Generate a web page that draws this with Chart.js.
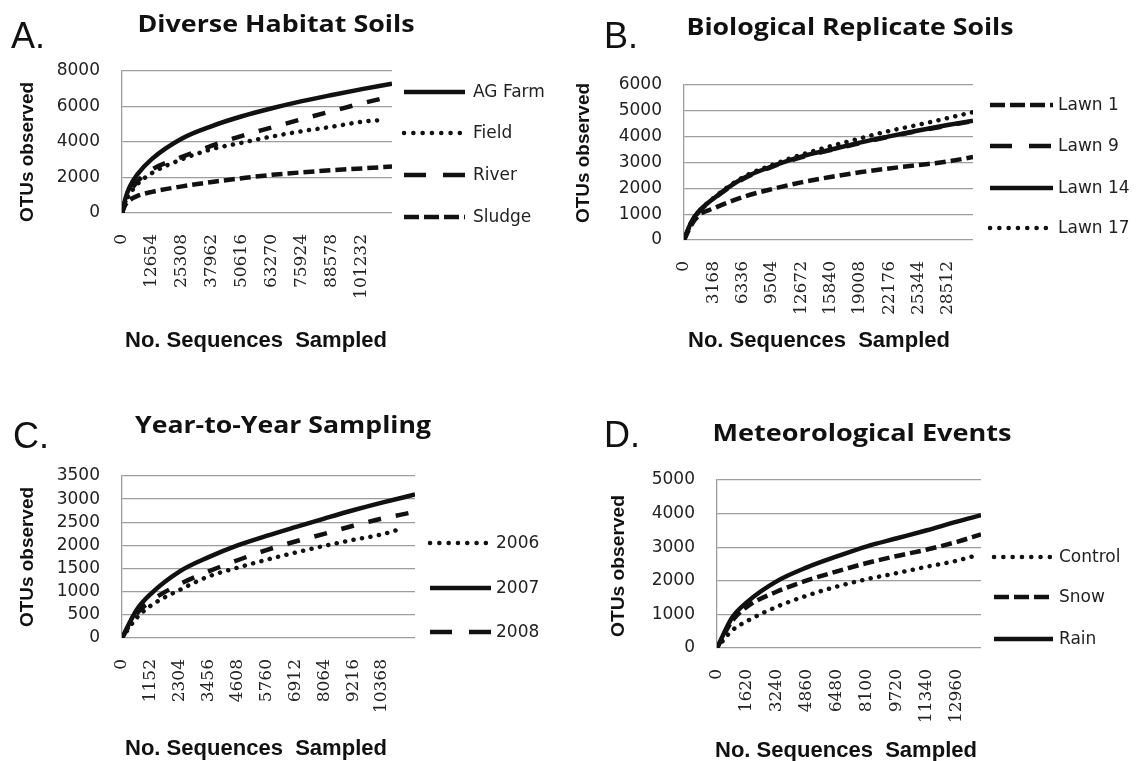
<!DOCTYPE html>
<html>
<head>
<meta charset="utf-8">
<script src="https://cdn.jsdelivr.net/npm/chart.js@4/dist/chart.umd.min.js"></script>
<style>
  html, body { margin: 0; padding: 0; background: #fff; }
  #wrap { position: relative; width: 1136px; height: 761px; overflow: hidden; }
  canvas { position: absolute; }
</style>
</head>
<body>
<div id="wrap">
  <canvas id="chartA" width="568" height="380" style="left:0;top:0"></canvas>
  <canvas id="chartB" width="568" height="380" style="left:568px;top:0"></canvas>
  <canvas id="chartC" width="568" height="381" style="left:0;top:380px"></canvas>
  <canvas id="chartD" width="568" height="381" style="left:568px;top:380px"></canvas>
</div>
<script>
// ---- A. Diverse Habitat Soils ----
const ticksA = [0, 12654, 25308, 37962, 50616, 63270, 75924, 88578, 101232];
const seqA = [0, 1406, 3164, 6327, 12654, 25308, 37962, 50616, 63270, 75924, 88578, 101232];
const depthA = { agFarm: 113886, field: 111000, river: 113886, sludge: 113886 };
const agFarm = [0, 800, 1450, 2150, 3050, 4200, 4900, 5450, 5900, 6300, 6650, 6980, 7280];
const field  = [0, 600, 1050, 1600, 2250, 3030, 3600, 3960, 4310, 4610, 4860, 5140, 5250];
const river  = [0, 650, 1150, 1750, 2450, 3160, 3790, 4350, 4820, 5290, 5740, 6180, 6580];
const sludge = [0, 450, 720, 950, 1190, 1500, 1750, 1960, 2150, 2290, 2410, 2510, 2620];

// ---- B. Biological Replicate Soils ----
const ticksB = [0, 3168, 6336, 9504, 12672, 15840, 19008, 22176, 25344, 28512];
const seqB = [0, 792, 1584, 3168, 6336, 9504, 12672, 15840, 19008, 22176, 25344, 28512];
const depthB = 31250;
const lawn1  = [0, 580, 950, 1220, 1660, 1970, 2230, 2440, 2620, 2770, 2900, 3040, 3210];
const lawn9  = [0, 680, 1080, 1580, 2350, 2830, 3200, 3480, 3750, 4000, 4220, 4430, 4600];
const lawn14 = [0, 700, 1100, 1600, 2380, 2850, 3230, 3500, 3770, 4010, 4240, 4450, 4620];
const lawn17 = [0, 690, 1090, 1620, 2420, 2900, 3300, 3630, 3930, 4220, 4460, 4720, 4950];

// ---- C. Year-to-Year Sampling ----
const ticksC = [0, 1152, 2304, 3456, 4608, 5760, 6912, 8064, 9216, 10368];
const seqC = [0, 576, 1152, 2304, 3456, 4608, 5760, 6912, 8064, 9216, 10368];
const depthC = { y2006: 11080, y2007: 11684, y2008: 11440 };
const otu2006 = [0, 430, 700, 1040, 1330, 1520, 1690, 1845, 1990, 2120, 2240, 2350];
const otu2007 = [0, 600, 955, 1440, 1747, 2000, 2205, 2395, 2580, 2760, 2925, 3100];
const otu2008 = [0, 520, 800, 1165, 1440, 1680, 1900, 2085, 2250, 2425, 2580, 2700];

// ---- D. Meteorological Events ----
const ticksD = [0, 1620, 3240, 4860, 6480, 8100, 9720, 11340, 12960];
const seqD = [0, 810, 1620, 3240, 4860, 6480, 8100, 9720, 11340, 12960];
const depthD = { control: 13770, snow: 14260, rain: 14260 };
const control = [0, 520, 800, 1230, 1560, 1830, 2050, 2230, 2420, 2600, 2720];
const snow    = [0, 800, 1230, 1680, 2010, 2280, 2530, 2740, 2930, 3160, 3380];
const rain    = [0, 900, 1365, 1990, 2400, 2725, 3025, 3265, 3505, 3760, 3950];

// Line styles shared by all panels (plot dash and legend-sample dash)
const STYLE = {
  solid:     { dash: [],         legendDash: [],         cap: 'butt'  },
  dotted:    { dash: [0.1, 8.5], legendDash: [0.1, 9.2], cap: 'round' },
  longDash:  { dash: [13, 15],   legendDash: [22, 17],   cap: 'butt'  },
  shortDash: { dash: [11, 5],    legendDash: [15, 5],    cap: 'butt'  }
};

const INK = '#111';
const GRID = '#9d9d9d';

function series(label, seq, depth, values, style) {
  const xs = seq.concat([depth]);
  return {
    label: label,
    data: values.map((v, i) => ({ x: xs[i], y: v })),
    borderColor: INK,
    borderWidth: 4.5,
    borderDash: style.dash,
    borderCapStyle: style.cap,
    legendDash: style.legendDash,
    pointRadius: 0,
    pointHoverRadius: 0,
    cubicInterpolationMode: 'monotone',
    fill: false
  };
}

function fitText(ctx, text, x, y, width, font, angle, baseline) {
  ctx.save();
  ctx.font = font;
  const w = ctx.measureText(text).width;
  ctx.translate(x, y);
  ctx.rotate(angle);
  ctx.scale(width / w, 1);
  ctx.textAlign = 'center';
  ctx.textBaseline = baseline;
  ctx.fillText(text, 0, 0);
  ctx.restore();
}

// Panel letter, title, axis titles and legend drawn on top of each chart
function decor(cfg) {
  return {
    id: 'decor',
    afterDraw(chart) {
      const ctx = chart.ctx;
      ctx.save();
      ctx.fillStyle = INK;
      ctx.font = "36px 'Liberation Sans'";
      ctx.textAlign = 'left';
      ctx.textBaseline = 'alphabetic';
      ctx.fillText(cfg.letter, cfg.letterAt[0], cfg.letterAt[1]);

      fitText(ctx, cfg.title, cfg.titleAt[0], cfg.titleAt[1], cfg.titleAt[2],
              "bold 24px 'Open Sans'", 0, 'alphabetic');
      fitText(ctx, 'OTUs observed', cfg.yTitleAt[0], cfg.yTitleAt[1], cfg.yTitleAt[2],
              "bold 19px 'Liberation Sans'", -Math.PI / 2, 'middle');
      fitText(ctx, 'No. Sequences  Sampled', cfg.xTitleAt[0], cfg.xTitleAt[1], cfg.xTitleAt[2],
              "bold 22px 'Liberation Sans'", 0, 'alphabetic');

      const lg = cfg.legend;
      chart.data.datasets.forEach((ds, i) => {
        const y = lg.rows[i];
        ctx.save();
        ctx.strokeStyle = ds.borderColor;
        ctx.lineWidth = ds.borderWidth;
        ctx.lineCap = ds.borderCapStyle;
        ctx.setLineDash(ds.legendDash);
        ctx.beginPath();
        ctx.moveTo(lg.x0, y);
        ctx.lineTo(lg.x1, y);
        ctx.stroke();
        ctx.restore();
        ctx.fillStyle = '#222';
        ctx.font = "17px 'DejaVu Sans'";
        ctx.textAlign = 'left';
        ctx.textBaseline = 'middle';
        ctx.fillText(ds.label, lg.tx, y + 1);
      });
      ctx.restore();
    }
  };
}

function makeChart(id, cfg) {
  const canvas = document.getElementById(id);
  const W = canvas.width, H = canvas.height, area = cfg.area;
  return new Chart(canvas, {
    type: 'line',
    data: { datasets: cfg.datasets },
    options: {
      responsive: false,
      animation: false,
      devicePixelRatio: 1,
      events: [],
      layout: { padding: { left: 0, top: area.top, right: W - area.right, bottom: 0 } },
      plugins: { legend: { display: false }, tooltip: { enabled: false }, title: { display: false } },
      scales: {
        x: {
          type: 'linear',
          min: 0,
          max: cfg.xMax,
          afterFit(s) { s.height = H - area.bottom; },
          afterBuildTicks(s) { s.ticks = cfg.xTicks.map(v => ({ value: v })); },
          grid: { display: false, drawTicks: false },
          border: { display: false },
          ticks: {
            autoSkip: false, minRotation: 90, maxRotation: 90, padding: 21,
            color: '#222', font: { family: "'DejaVu Serif'", size: 17 },
            callback: v => String(v)
          }
        },
        y: {
          min: 0,
          max: cfg.yMax,
          afterFit(s) { s.width = area.left; },
          grid: { color: GRID, lineWidth: 1.3, drawTicks: false },
          border: { display: true, color: GRID, width: 1.3 },
          ticks: {
            stepSize: cfg.yStep, autoSkip: false, padding: 22,
            color: '#222', font: { family: "'DejaVu Sans'", size: 17 },
            callback: v => String(v)
          }
        }
      }
    },
    plugins: [decor(cfg)]
  });
}

makeChart('chartA', {
  letter: 'A.', letterAt: [11, 48],
  title: 'Diverse Habitat Soils', titleAt: [276, 32, 277],
  yTitleAt: [27.5, 152, 140], xTitleAt: [256, 347, 262],
  area: { left: 122, right: 392, top: 71, bottom: 213 },
  xMax: 113886, xTicks: ticksA, yMax: 8000, yStep: 2000,
  legend: { x0: 404, x1: 465, tx: 473, rows: [92, 133, 175, 217] },
  datasets: [
    series('AG Farm', seqA, depthA.agFarm, agFarm, STYLE.solid),
    series('Field', seqA, depthA.field, field, STYLE.dotted),
    series('River', seqA, depthA.river, river, STYLE.longDash),
    series('Sludge', seqA, depthA.sludge, sludge, STYLE.shortDash)
  ]
});

makeChart('chartB', {
  letter: 'B.', letterAt: [36, 48],
  title: 'Biological Replicate Soils', titleAt: [282, 35, 327],
  yTitleAt: [16, 153, 140], xTitleAt: [251, 347, 262],
  area: { left: 116, right: 405, top: 85, bottom: 240 },
  xMax: depthB, xTicks: ticksB, yMax: 6000, yStep: 1000,
  legend: { x0: 422, x1: 485, tx: 490, rows: [105, 146, 188, 228] },
  datasets: [
    series('Lawn 1', seqB, depthB, lawn1, STYLE.shortDash),
    series('Lawn 9', seqB, depthB, lawn9, STYLE.longDash),
    series('Lawn 14', seqB, depthB, lawn14, STYLE.solid),
    series('Lawn 17', seqB, depthB, lawn17, STYLE.dotted)
  ]
});

makeChart('chartC', {
  letter: 'C.', letterAt: [13, 68],
  title: 'Year-to-Year Sampling', titleAt: [283, 53, 296],
  yTitleAt: [27.5, 177, 140], xTitleAt: [256, 375, 262],
  area: { left: 122, right: 415, top: 96, bottom: 258 },
  xMax: 11684, xTicks: ticksC, yMax: 3500, yStep: 500,
  legend: { x0: 430, x1: 491, tx: 496, rows: [163, 208, 252] },
  datasets: [
    series('2006', seqC, depthC.y2006, otu2006, STYLE.dotted),
    series('2007', seqC, depthC.y2007, otu2007, STYLE.solid),
    series('2008', seqC, depthC.y2008, otu2008, STYLE.longDash)
  ]
});

makeChart('chartD', {
  letter: 'D.', letterAt: [36, 67],
  title: 'Meteorological Events', titleAt: [294, 61, 299],
  yTitleAt: [51, 186, 142], xTitleAt: [278, 377, 262],
  area: { left: 149, right: 413, top: 100, bottom: 268 },
  xMax: 14260, xTicks: ticksD, yMax: 5000, yStep: 1000,
  legend: { x0: 426, x1: 485, tx: 491, rows: [177, 217, 259] },
  datasets: [
    series('Control', seqD, depthD.control, control, STYLE.dotted),
    series('Snow', seqD, depthD.snow, snow, STYLE.shortDash),
    series('Rain', seqD, depthD.rain, rain, STYLE.solid)
  ]
});
</script>
</body>
</html>
